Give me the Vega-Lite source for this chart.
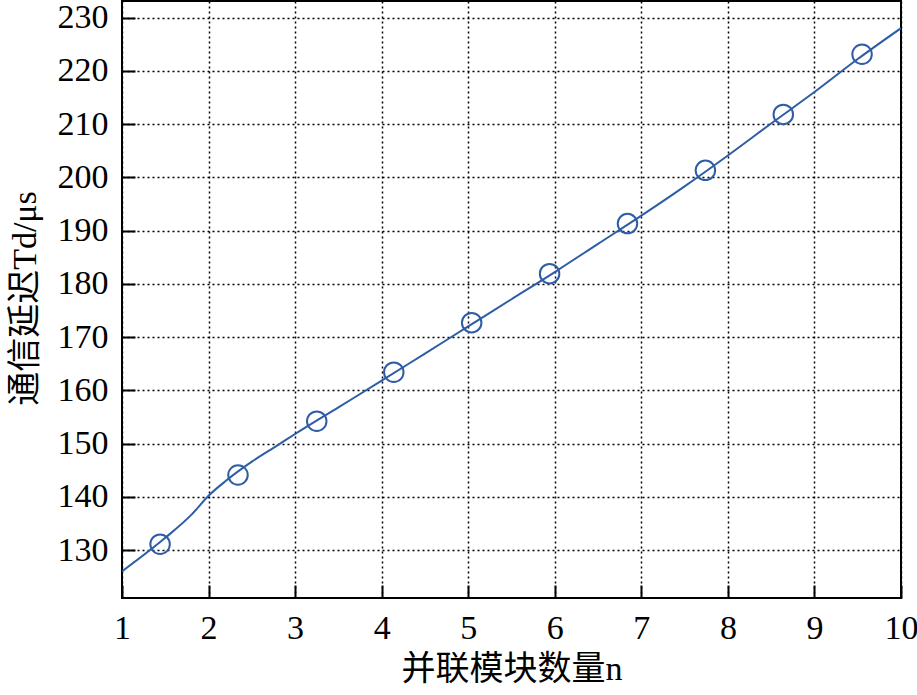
{
  "$schema": "https://vega.github.io/schema/vega-lite/v6.json",
  "autosize": {"type": "none"},
  "width": 779,
  "height": 597,
  "padding": {"left": 122, "top": 1, "right": 16, "bottom": 97},
  "background": "white",
  "config": {
    "view": {"stroke": "black", "strokeWidth": 2},
    "axis": {
      "domain": false,
      "grid": true,
      "gridColor": "black",
      "gridDash": [2, 3],
      "gridWidth": 1.5,
      "gridOpacity": 1,
      "ticks": true,
      "tickColor": "black",
      "tickWidth": 2,
      "tickSize": -13,
      "labelFont": "Liberation Serif",
      "labelFontSize": 34,
      "labelColor": "black",
      "titleFont": "Liberation Serif, Noto Sans CJK SC",
      "titleFontSize": 34,
      "titleFontWeight": "normal",
      "titleColor": "black"
    }
  },
  "datasets": {
    "curve": [
      {"n": 1, "t": 126.0},
      {"n": 1.5, "t": 132.3},
      {"n": 1.8, "t": 136.6},
      {"n": 2, "t": 140.2},
      {"n": 2.2, "t": 143.0},
      {"n": 2.5, "t": 146.6},
      {"n": 2.8, "t": 149.7},
      {"n": 3, "t": 151.8},
      {"n": 3.5, "t": 156.8},
      {"n": 4, "t": 161.8},
      {"n": 4.5, "t": 166.9},
      {"n": 5, "t": 172.0},
      {"n": 5.5, "t": 177.1},
      {"n": 6, "t": 182.2},
      {"n": 6.5, "t": 187.5},
      {"n": 7, "t": 192.8},
      {"n": 7.5, "t": 198.3},
      {"n": 8, "t": 204.1},
      {"n": 8.5, "t": 210.1},
      {"n": 9, "t": 216.0},
      {"n": 9.5, "t": 222.2},
      {"n": 10, "t": 228.0}
    ],
    "marks": [
      {"n": 1.44, "t": 131.1},
      {"n": 2.34, "t": 144.1},
      {"n": 3.25, "t": 154.2},
      {"n": 4.14, "t": 163.4},
      {"n": 5.04, "t": 172.7},
      {"n": 5.94, "t": 181.9},
      {"n": 6.84, "t": 191.3},
      {"n": 7.74, "t": 201.3},
      {"n": 8.64, "t": 211.8},
      {"n": 9.55, "t": 223.1}
    ]
  },
  "layer": [
    {
      "data": {"name": "curve"},
      "mark": {"type": "line", "color": "#2E5DA6", "strokeWidth": 2, "clip": true, "interpolate": "monotone"},
      "encoding": {
        "x": {
          "field": "n", "type": "quantitative",
          "scale": {"domain": [1, 10], "nice": false, "zero": false},
          "axis": {
            "values": [1,2,3,4,5,6,7,8,9,10], "format": "d",
            "title": "并联模块数量n", "labelPadding": 26, "titleY": 54, "labelFlush": false,
            "labelFont": "Liberation Serif"
          }
        },
        "y": {
          "field": "t", "type": "quantitative",
          "scale": {"domain": [121, 233.1], "nice": false, "zero": false},
          "axis": {
            "values": [130,140,150,160,170,180,190,200,210,220,230], "format": "d",
            "title": "通信延迟Td/μs", "labelPadding": 27, "titleX": -80, "titleY": 297,
            "labelFont": "Liberation Serif"
          }
        }
      }
    },
    {
      "data": {"name": "marks"},
      "mark": {"type": "point", "shape": "circle", "filled": false, "color": "#2E5DA6", "strokeWidth": 2, "size": 380, "opacity": 1},
      "encoding": {
        "x": {"field": "n", "type": "quantitative"},
        "y": {"field": "t", "type": "quantitative"}
      }
    }
  ]
}
